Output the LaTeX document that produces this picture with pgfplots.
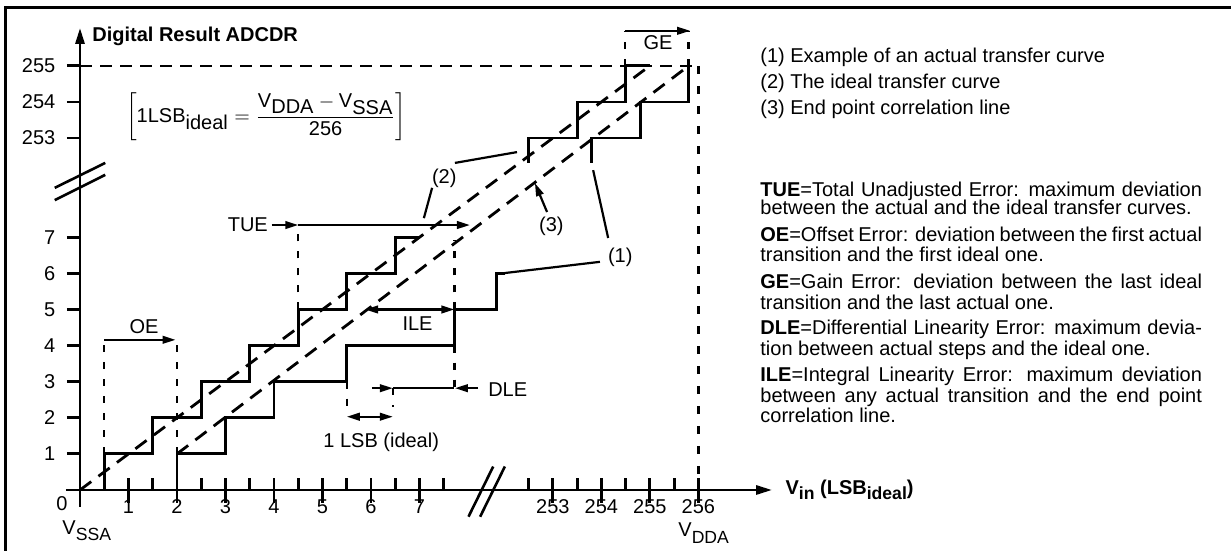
\documentclass[border=0pt]{standalone}
\usepackage{fontspec}
\setmainfont{Liberation Sans}
\usepackage{amsmath}
\usepackage{pgfplots}
\pgfplotsset{compat=1.18}
\usetikzlibrary{arrows.meta}
\newcommand\sub[1]{\raisebox{-3.2pt}{\fontsize{8.8}{8.8}\selectfont #1}}

\begin{document}
\begin{tikzpicture}[
  ar/.style={-{Triangle[length=6.5pt,width=3.8pt]}},
  lbl/.style={font=\fontsize{10}{10}\selectfont, inner sep=0pt},
  stair/.style={black, line width=1.4pt},
  diag/.style={black, line width=1.4pt, dash pattern=on 7pt off 4.5pt},
  ann/.style={black, line width=1.1pt},
  vd/.style={black, line width=1.2pt, dash pattern=on 3.5pt off 5pt},
]
\begin{axis}[
  at={(0,0)}, anchor=south west,
  width=615.5pt, height=275.5pt, scale only axis,
  xmin=-1.6495, xmax=23.732, ymin=-1.6898, ymax=13.5734,
  hide axis, clip=false,
]
% reference dashed lines (255 level and 256 input)
\addplot[black, line width=1.3pt, dash pattern=on 6pt off 4pt] coordinates {(0,11.75) (12.75,11.75)};
\addplot[black, line width=1.3pt, dash pattern=on 4pt off 6pt] coordinates {(12.75,11.75) (12.75,0)};
% (2) ideal line and (3) end point correlation line
\addplot[diag] coordinates {(0,0) (11.75,11.75)};
\addplot[diag] coordinates {(2,1) (12.55,11.75)};
% (2) ideal transfer curve
\addplot[stair] coordinates {(0.5,0) (0.5,1) (1.5,1) (1.5,2) (2.5,2) (2.5,3) (3.5,3) (3.5,4) (4.5,4) (4.5,5) (5.5,5) (5.5,6) (6.5,6) (6.5,7) (7,7)};
\addplot[stair] coordinates {(9.25,9.06) (9.25,9.75) (10.25,9.75) (10.25,10.75) (11.25,10.75) (11.25,11.75) (11.75,11.75)};
% (1) actual transfer curve
\addplot[stair] coordinates {(2,0) (2,1) (3,1) (3,2) (4,2) (4,3) (5.5,3) (5.5,4) (7.72,4) (7.72,5) (8.58,5) (8.58,6) (8.76,6)};
\addplot[stair] coordinates {(10.54,9.06) (10.54,9.75) (11.55,9.75) (11.55,10.75) (12.55,10.75) (12.55,11.75)};

% axes
\draw[line width=1.4pt, -{Triangle[length=8pt,width=4.5pt]}] (axis cs:0,-0.47) -- (axis cs:0,12.8);
\draw[line width=1.4pt, -{Triangle[length=8pt,width=4.5pt]}] (axis cs:-0.29,0) -- (axis cs:14.27,0);
% y ticks
\pgfplotsinvokeforeach{1,2,3,4,5,6,7,9.75,10.75,11.75}{
  \draw[line width=1.4pt] (axis cs:-0.27,#1) -- (axis cs:0,#1);
}
\pgfplotsinvokeforeach{1,2,3,4,5,6,7}{
  \node[lbl, anchor=east] at (axis cs:-0.5,#1) {#1};
}
\node[lbl, anchor=east] at (axis cs:-0.5,9.75) {253};
\node[lbl, anchor=east] at (axis cs:-0.5,10.75) {254};
\node[lbl, anchor=east] at (axis cs:-0.5,11.75) {255};
% x ticks
\pgfplotsinvokeforeach{0.5,1.5,2.5,3.5,4.5,5.5,6.5,7.5,9.25,10.25,11.25,12.25}{
  \draw[line width=1.4pt] (axis cs:#1,0) -- (axis cs:#1,0.33);
}
\pgfplotsinvokeforeach{1,2,3,4,5,6,7,9.75,10.75,11.75,12.75}{
  \draw[line width=1.4pt] (axis cs:#1,-0.36) -- (axis cs:#1,0.33);
}
\pgfplotsinvokeforeach{1,2,3,4,5,6,7}{
  \node[lbl, anchor=base] at (axis cs:#1,-0.66) {#1};
}
\node[lbl, anchor=base] at (axis cs:9.75,-0.66) {253};
\node[lbl, anchor=base] at (axis cs:10.75,-0.66) {254};
\node[lbl, anchor=base] at (axis cs:11.75,-0.66) {255};
\node[lbl, anchor=base] at (axis cs:12.75,-0.66) {256};
\node[lbl, anchor=base] at (axis cs:-0.37,-0.56) {0};
\node[lbl, anchor=base west] at (axis cs:-0.37,-1.22) {V\sub{SSA}};
\node[lbl, anchor=base west] at (axis cs:12.33,-1.30) {V\sub{DDA}};
% axis titles
\node[lbl, anchor=base west] at (axis cs:0.247,12.41) {\textbf{Digital Result ADCDR}};
\node[lbl, anchor=base west] at (axis cs:14.54,-0.12) {\textbf{V\raisebox{-2.6pt}{\fontsize{8.8}{8.8}\selectfont\bfseries in} (LSB\raisebox{-2.6pt}{\fontsize{8.8}{8.8}\selectfont\bfseries ideal})}};
% axis breaks
\draw[line width=1.3pt] (axis cs:-0.52,8.37) -- (axis cs:0.52,9.06);
\draw[line width=1.3pt] (axis cs:-0.52,8.03) -- (axis cs:0.52,8.73);
\draw[line width=1.3pt] (axis cs:8.01,-0.74) -- (axis cs:8.52,0.65);
\draw[line width=1.3pt] (axis cs:8.25,-0.74) -- (axis cs:8.76,0.65);

% formula
\node[lbl] at (axis cs:3.84,10.33) {$\left[\text{1LSB}_{\text{\fontsize{10}{10}\selectfont ideal}}=\dfrac{\text{V}_{\text{\fontsize{10}{10}\selectfont DDA}}-\text{V}_{\text{\fontsize{10}{10}\selectfont SSA}}}{\text{256}}\right]$};

% OE
\draw[vd] (axis cs:0.5,1) -- (axis cs:0.5,4.16);
\draw[vd] (axis cs:2,1) -- (axis cs:2,4.16);
\draw[ann, ar] (axis cs:0.5,4.16) -- (axis cs:1.97,4.16);
\node[lbl] at (axis cs:1.32,4.52) {OE};
% TUE
\node[lbl, anchor=east] at (axis cs:3.88,7.34) {TUE};
\draw[ann, ar] (axis cs:3.95,7.34) -- (axis cs:4.5,7.34);
\draw[ann, ar] (axis cs:4.5,7.34) -- (axis cs:8.04,7.34);
\draw[vd] (axis cs:4.5,5) -- (axis cs:4.5,7.2);
\draw[vd] (axis cs:7.72,5) -- (axis cs:7.72,6.93);
% ILE
\draw[ann, {Triangle[length=6.5pt,width=3.8pt]}-{Triangle[length=6.5pt,width=3.8pt]}] (axis cs:5.88,5) -- (axis cs:7.72,5);
\node[lbl] at (axis cs:6.96,4.61) {ILE};
% DLE
\draw[vd] (axis cs:7.72,4) -- (axis cs:7.72,2.82);
\draw[ann, ar] (axis cs:6.02,2.82) -- (axis cs:6.45,2.82);
\draw[ann] (axis cs:6.45,2.82) -- (axis cs:7.72,2.82);
\draw[ann, ar] (axis cs:8.21,2.82) -- (axis cs:7.73,2.82);
\node[lbl, anchor=west] at (axis cs:8.41,2.78) {DLE};
% 1 LSB
\draw[vd] (axis cs:5.5,3) -- (axis cs:5.5,2.3);
\draw[vd] (axis cs:6.45,2.82) -- (axis cs:6.45,2.3);
\draw[ann, {Triangle[length=6.5pt,width=3.8pt]}-{Triangle[length=6.5pt,width=3.8pt]}] (axis cs:5.5,2.03) -- (axis cs:6.45,2.03);
\node[lbl, anchor=base] at (axis cs:6.21,1.19) {1 LSB (ideal)};
% GE
\draw[vd] (axis cs:11.24,11.75) -- (axis cs:11.24,12.72);
\draw[vd] (axis cs:12.55,11.75) -- (axis cs:12.55,12.72);
\draw[ann, ar] (axis cs:11.24,12.72) -- (axis cs:12.58,12.72);
\node[lbl] at (axis cs:11.92,12.38) {GE};
% callouts
\draw[ann] (axis cs:7.73,9.06) -- (axis cs:9.01,9.36);
\draw[ann] (axis cs:7.26,8.37) -- (axis cs:7.09,7.53);
\node[lbl, anchor=base] at (axis cs:7.51,8.50) {(2)};
\draw[ann, ar] (axis cs:9.63,7.70) -- (axis cs:9.38,8.50);
\node[lbl, anchor=base] at (axis cs:9.72,7.15) {(3)};
\draw[ann] (axis cs:10.89,6.98) -- (axis cs:10.58,8.86);
\draw[ann] (axis cs:10.72,6.32) -- (axis cs:8.76,6.01);
\node[lbl, anchor=base] at (axis cs:11.14,6.29) {(1)};
\end{axis}

% pixel-based overlay for frame and side text
\begin{scope}[shift={(0pt,275.5pt)}, x=0.5pt, y=-0.5pt]
\draw[line width=1.5pt] (5,551) -- (5,8) -- (1231,8);
\node[lbl, anchor=base west] at (760,62.5) {(1) Example of an actual transfer curve};
\node[lbl, anchor=base west] at (760,89) {(2) The ideal transfer curve};
\node[lbl, anchor=base west] at (760,115) {(3) End point correlation line};
\newcommand\jl[1]{\makebox[220.8pt][s]{#1}}
\node[lbl, anchor=base west] at (760,196.5) {\jl{\textbf{TUE}=Total Unadjusted Error: maximum deviation}};
\node[lbl, anchor=base west] at (760,215) {between the actual and the ideal transfer curves.};
\node[lbl, anchor=base west] at (760,241.7) {\jl{\textbf{OE}=Offset Error: deviation between the first actual}};
\node[lbl, anchor=base west] at (760,261.7) {transition and the first ideal one.};
\node[lbl, anchor=base west] at (760,288.3) {\jl{\textbf{GE}=Gain Error: deviation between the last ideal}};
\node[lbl, anchor=base west] at (760,309.3) {transition and the last actual one.};
\node[lbl, anchor=base west] at (760,335) {\jl{\textbf{DLE}=Differential Linearity Error: maximum devia-}};
\node[lbl, anchor=base west] at (760,355.5) {tion between actual steps and the ideal one.};
\node[lbl, anchor=base west] at (760,381.7) {\jl{\textbf{ILE}=Integral Linearity Error: maximum deviation}};
\node[lbl, anchor=base west] at (760,402.7) {\jl{between any actual transition and the end point}};
\node[lbl, anchor=base west] at (760,422.7) {correlation line.};
\end{scope}
\pgfresetboundingbox
\useasboundingbox (0,0) rectangle (615.5pt,275.5pt);
\end{tikzpicture}
\end{document}
